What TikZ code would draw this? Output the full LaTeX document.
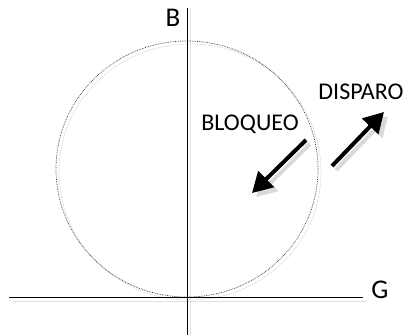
\documentclass[tikz,border=0pt]{standalone}
\usepackage{fontspec}
\setmainfont{Carlito}
\usetikzlibrary{arrows.meta}
\begin{document}
\begin{tikzpicture}[x=1pt,y=-1pt,
  axis/.style={line width=1pt,black},
  shadowline/.style={line width=1pt,black!12},
  circ/.style={line width=0.7pt,black!80,densely dotted},
  bigarrow/.style={line width=4pt,-{Triangle[length=20pt,width=22pt]}},
  shadowarrow/.style={line width=4pt,black!15,-{Triangle[length=20pt,width=22pt]}},
  lab/.style={inner sep=0pt,font=\fontsize{24}{28}\selectfont},
  axlab/.style={inner sep=0pt,font=\fontsize{27}{32}\selectfont}]
\useasboundingbox (0,0) rectangle (406,335);
% coordinates
\coordinate (vtop) at (187,8);
\coordinate (vbot) at (187,335);
\coordinate (hleft) at (9,297);
\coordinate (hright) at (363,297);
\coordinate (c) at (187,169);
\coordinate (bs) at (306,140);
\coordinate (be) at (252,193);
\coordinate (ds) at (332,166);
\coordinate (de) at (384,112);
% shadows
\draw[shadowline] ([xshift=3.5pt]vtop) -- ([xshift=3.5pt]vbot);
\draw[shadowline] ([shift={(4,4)}]hleft) -- ([shift={(4,4)}]hright);
\draw[line width=0.7pt,black!10] ([shift={(3,3)}]c) ellipse [x radius=131, y radius=128];
\draw[shadowarrow] ([shift={(4,4)}]bs) -- ([shift={(4,4)}]be);
\draw[shadowarrow] ([shift={(4,4)}]ds) -- ([shift={(4,4)}]de);
% main
\draw[circ] (c) ellipse [x radius=131, y radius=128];
\draw[axis] (vtop) -- (vbot);
\draw[axis] (hleft) -- (hright);
\draw[bigarrow] (bs) -- (be);
\draw[bigarrow] (ds) -- (de);
% labels
\node[axlab] (B) at (173,18) {B};
\node[axlab] (G) at (380,290) {G};
\node[lab] (bloq) at (250,124) {BLOQUEO};
\node[lab] (disp) at (361,92) {DISPARO};
\end{tikzpicture}
\end{document}
